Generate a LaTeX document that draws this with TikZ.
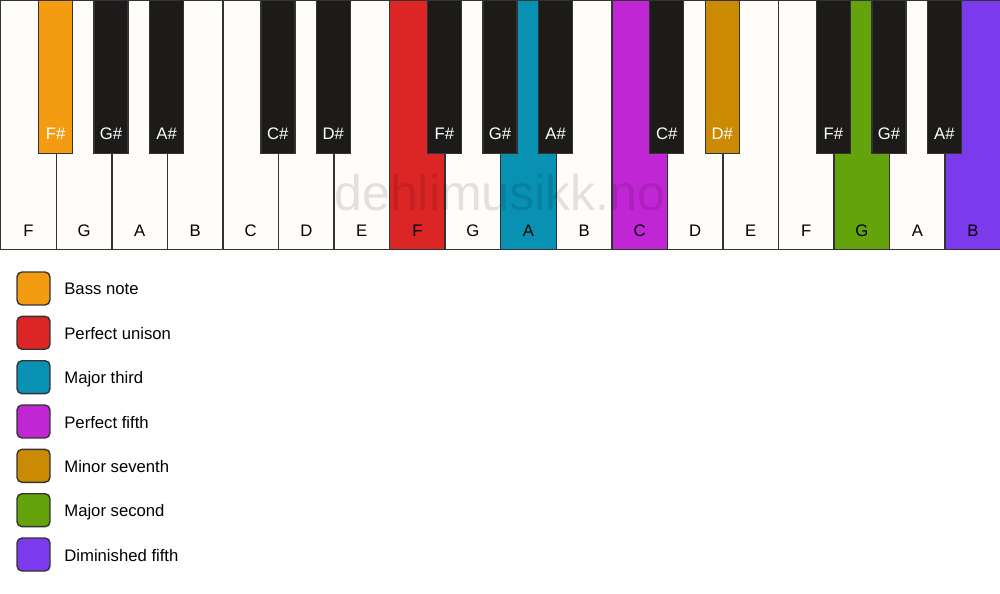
\documentclass[tikz,border=0pt]{standalone}
\usepackage{fontspec}
\setmainfont{Liberation Sans}
\usepackage{tikz}
\usetikzlibrary{positioning}
\definecolor{keyline}{HTML}{333333}
\definecolor{ivory}{HTML}{FFFDF9}
\definecolor{ebony}{HTML}{1C1B19}
\definecolor{bassc}{HTML}{F39C12}
\definecolor{unisonc}{HTML}{DC2626}
\definecolor{thirdc}{HTML}{0891B2}
\definecolor{fifthc}{HTML}{C026D3}
\definecolor{seventhc}{HTML}{CA8A04}
\definecolor{secondc}{HTML}{65A30D}
\definecolor{dimc}{HTML}{7C3AED}

\begin{document}
\begin{tikzpicture}
[x=0.02cm, y=-0.02cm, font=\fontsize{9.5}{11}\selectfont,
whitekey/.style={draw=keyline, line width=0.8pt, fill=#1, anchor=north west,
inner sep=0pt, minimum width=1.111cm, text height=4.72cm, text depth=0.26cm},
whitekey/.default=ivory,
blackkey/.style={draw=keyline, line width=0.8pt, fill=#1, text=white, anchor=north,
inner sep=0pt, minimum width=0.68cm, text height=2.78cm, text depth=0.28cm},
blackkey/.default=ebony,
swatch/.style={draw=keyline, line width=0.8pt, fill=#1, rounded corners=0.1cm,
minimum size=0.66cm, inner sep=0pt},
legendtext/.style={anchor=base west, inner sep=0pt}]
\useasboundingbox[fill=white] (0,0) rectangle (1000,594);

% white keys
\node (wF1) at (0,0) [whitekey] {F};
\node (wG1) at (55.6,0) [whitekey] {G};
\node (wA1) at (111.1,0) [whitekey] {A};
\node (wB1) at (166.7,0) [whitekey] {B};
\node (wC1) at (222.2,0) [whitekey] {C};
\node (wD1) at (277.8,0) [whitekey] {D};
\node (wE1) at (333.3,0) [whitekey] {E};
\node (wF2) at (388.9,0) [whitekey=unisonc] {F};
\node (wG2) at (444.4,0) [whitekey] {G};
\node (wA2) at (500,0) [whitekey=thirdc] {A};
\node (wB2) at (555.6,0) [whitekey] {B};
\node (wC2) at (611.1,0) [whitekey=fifthc] {C};
\node (wD2) at (666.7,0) [whitekey] {D};
\node (wE2) at (722.2,0) [whitekey] {E};
\node (wF3) at (777.8,0) [whitekey] {F};
\node (wG3) at (833.3,0) [whitekey=secondc] {G};
\node (wA3) at (888.9,0) [whitekey] {A};
\node (wB3) at (944.4,0) [whitekey=dimc] {B};

% black keys
\node (bF1) at (55.6,0) [blackkey=bassc] {F\#};
\node (bG1) at (111.1,0) [blackkey] {G\#};
\node (bA1) at (166.7,0) [blackkey] {A\#};
\node (bC1) at (277.8,0) [blackkey] {C\#};
\node (bD1) at (333.3,0) [blackkey] {D\#};
\node (bF2) at (444.4,0) [blackkey] {F\#};
\node (bG2) at (500,0) [blackkey] {G\#};
\node (bA2) at (555.6,0) [blackkey] {A\#};
\node (bC2) at (666.7,0) [blackkey] {C\#};
\node (bD2) at (722.2,0) [blackkey=seventhc] {D\#};
\node (bF3) at (833.3,0) [blackkey] {F\#};
\node (bG3) at (888.9,0) [blackkey] {G\#};
\node (bA3) at (944.4,0) [blackkey] {A\#};

% watermark
\node (mark) at (500,193) [text=black, text opacity=0.11,
font=\fontsize{28.5}{32}\selectfont] {dehlimusikk.no};

% legend
\node (bass) at (33.5,288.5) [swatch=bassc] {};
\node (unison) at (33.5,332.8) [swatch=unisonc] {};
\node (third) at (33.5,377.2) [swatch=thirdc] {};
\node (fifth) at (33.5,421.5) [swatch=fifthc] {};
\node (seventh) at (33.5,465.8) [swatch=seventhc] {};
\node (second) at (33.5,510.2) [swatch=secondc] {};
\node (dim) at (33.5,554.5) [swatch=dimc] {};
\node (basstext) at (64,295) [legendtext] {Bass note};
\node (unisontext) at (64,339.3) [legendtext] {Perfect unison};
\node (thirdtext) at (64,383.7) [legendtext] {Major third};
\node (fifthtext) at (64,428) [legendtext] {Perfect fifth};
\node (seventhtext) at (64,472.3) [legendtext] {Minor seventh};
\node (secondtext) at (64,516.7) [legendtext] {Major second};
\node (dimtext) at (64,561) [legendtext] {Diminished fifth};

\end{tikzpicture}
\end{document}
